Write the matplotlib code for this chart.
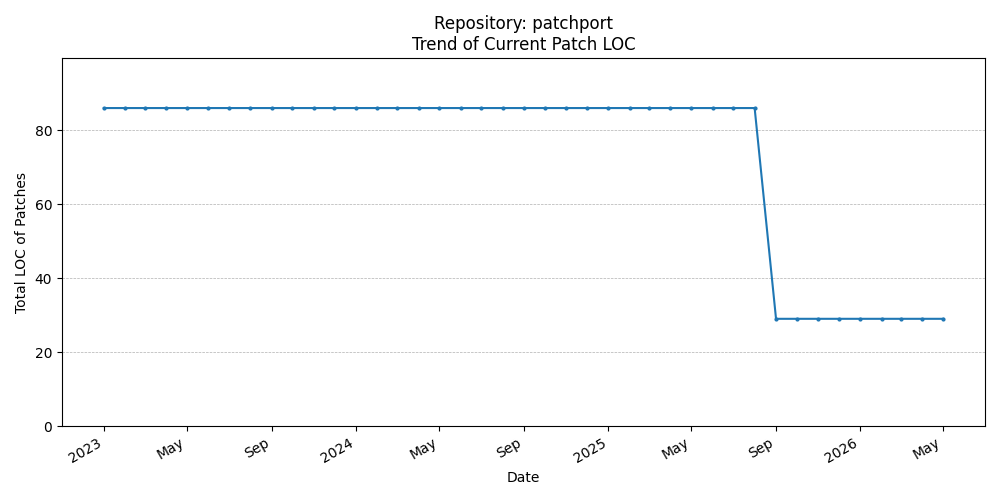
import pandas as pd
import matplotlib
matplotlib.use("Agg")
import matplotlib.pyplot as plt
import matplotlib.dates as mdates

REPO = "patchport"

# monthly snapshots, Jan 2023 .. May 2026
dates = pd.date_range("2023-01-01", "2026-05-01", freq="MS")
loc_high = [86] * 32   # Jan 2023 - Aug 2025
loc_low = [29] * 9     # Sep 2025 - May 2026
loc_values = loc_high + loc_low

fig, ax = plt.subplots(figsize=(10, 5), dpi=100)
ax.plot(dates, loc_values, marker="o", markersize=2, linestyle="-")

ax.set_title(f"Repository: {REPO}\nTrend of Current Patch LOC")
ax.set_xlabel("Date")
ax.set_ylabel("Total LOC of Patches")
ax.set_ylim(0, 99.5)
ax.grid(axis="y", linestyle="--", linewidth=0.5)

locator = mdates.AutoDateLocator()
ax.xaxis.set_major_locator(locator)
ax.xaxis.set_major_formatter(mdates.ConciseDateFormatter(locator))
fig.autofmt_xdate()

plt.tight_layout()
plt.savefig("out.png")
